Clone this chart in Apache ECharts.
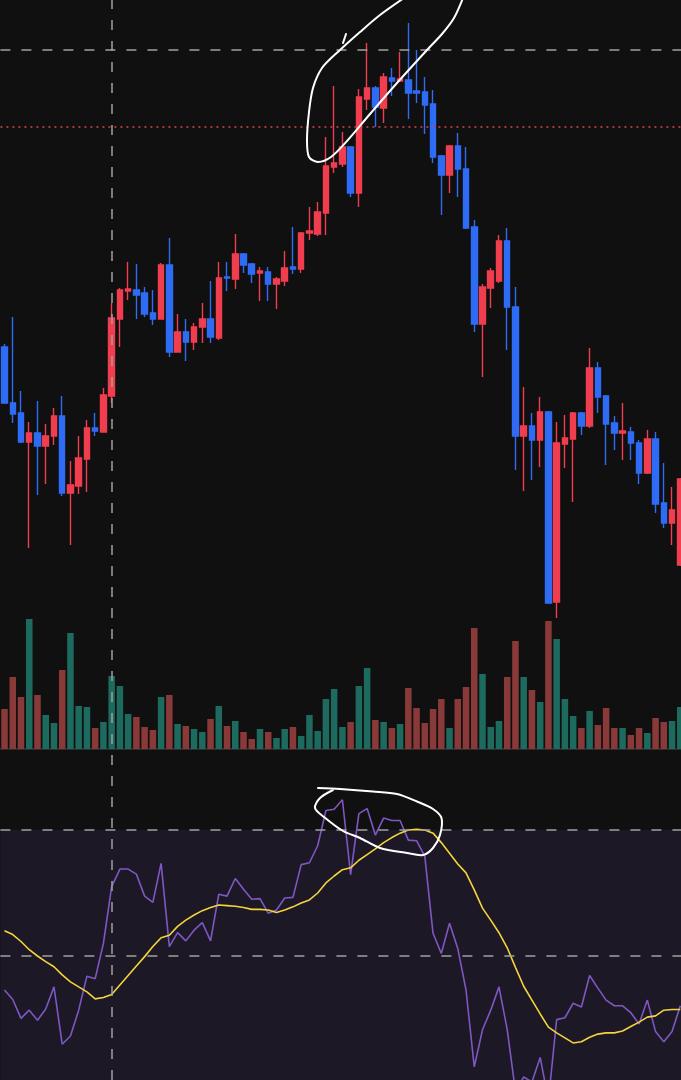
<!DOCTYPE html>
<html>
<head>
<meta charset="utf-8">
<script src="https://cdn.jsdelivr.net/npm/echarts@6.0.0/dist/echarts.min.js"></script>
<style>
html,body{margin:0;padding:0;background:#101010;}
#chart{width:681px;height:1080px;}
</style>
</head>
<body>
<div id="chart"></div>
<script>
// ---- data ----
const opens  = [353,297,287,258,267,254,264,284,207,214,
                241,272,268,304,381,409,410,407,387,381,
                435,348,368,358,373,381,362,423,421,446,
                436,427,428,416,419,433,431,467,466,487,
                533,536,553,507,601,612,592,622,619,620,
                609,608,596,544,525,554,531,473,376,412,
                419,459,393,264,274,260,288,98,256,261,
                287,274,332,304,277,267,268,257,227,261,
                197,177,135];
const closes = [297,286,258,267,254,264,284,207,215,242,
                272,269,305,382,410,411,405,386,381,435,
                348,368,358,373,381,363,422,422,446,435,
                426,429,416,421,432,431,467,469,488,534,
                537,553,507,603,612,593,623,619,621,607,
                607,595,543,525,554,531,472,376,413,429,
                459,393,264,274,260,288,97,257,262,287,
                274,332,303,276,267,269,257,227,261,196,
                177,190,221];
const lows   = [296,277,257,152,205,216,255,204,155,206,
                208,264,268,297,353,400,381,383,375,381,
                343,348,339,350,357,357,360,409,411,427,
                417,399,399,391,414,426,427,460,464,465,
                527,533,503,493,590,573,577,604,618,581,
                597,566,537,485,507,503,471,368,323,392,
                417,350,230,209,220,233,96,82,232,198,
                265,272,287,235,250,240,240,216,226,187,
                172,155,134];
const highs  = [356,383,309,278,299,276,292,304,239,264,
                280,287,312,397,412,438,436,413,410,437,
                462,386,381,377,397,419,438,438,466,447,
                437,433,433,423,449,473,468,493,498,563,
                614,568,554,611,657,614,627,632,648,677,
                650,623,610,545,555,567,553,480,416,432,
                465,472,413,313,287,303,289,278,285,288,
                288,352,338,305,284,297,273,260,270,268,
                237,213,222];
const volumes = [40,72,52,130,54,34,26,79,116,43,
                 42,21,27,73,63,35,32,22,19,52,
                 54,25,23,20,17,30,43,23,28,17,
                 10,20,17,11,20,22,13,34,18,50,
                 60,22,27,63,81,29,27,21,25,61,
                 41,26,40,50,21,50,62,121,75,22,
                 28,72,108,72,59,47,128,110,50,33,
                 21,38,24,41,21,21,14,21,16,31,
                 27,28,42];
const rsi = [44.6,43.1,40.1,41.4,39.8,41.6,45.1,36.0,37.3,41.4,
             46.8,46.4,52.0,61.0,63.8,63.8,63.0,59.5,58.5,64.7,
             51.5,53.7,52.4,54.1,55.3,52.4,59.8,59.5,62.3,60.6,
             59.0,59.1,56.8,57.3,59.2,59.3,64.5,64.8,67.5,73.1,
             73.3,74.8,62.9,72.6,73.4,69.2,71.9,71.5,71.5,68.4,
             68.3,65.8,53.6,50.4,55.2,51.2,44.6,32.4,38.3,41.4,
             45.1,38.3,28.5,30.8,30.0,33.9,27.1,39.9,40.2,42.5,
             41.9,46.9,44.9,43.0,42.1,42.1,41.0,39.2,43.0,38.0,
             36.4,38.0,42.1];
const rsiMA = [54.0,53.4,52.3,51.0,50.0,49.1,48.3,47.0,45.9,45.1,
               44.3,43.2,43.4,43.9,45.4,46.9,48.4,49.9,51.5,52.9,
               53.3,54.7,55.7,56.5,57.2,57.7,58.1,58.0,57.9,57.7,
               57.4,57.4,57.3,56.9,57.3,57.8,58.4,58.9,60.0,61.6,
               62.7,63.7,64.0,65.2,66.1,67.0,68.0,68.8,69.5,70.0,
               70.1,70.0,69.5,68.0,66.3,64.6,63.2,60.5,57.6,55.7,
               53.7,51.3,48.2,45.2,43.0,40.8,38.7,37.8,37.0,36.2,
               36.4,37.1,37.6,37.8,37.8,38.1,38.8,39.5,40.3,40.5,
               41.4,41.5,41.5];
const priceLevel = 650;      // dashed grey level
const lastPriceLevel = 573;  // red dotted price line
const rsiLevels = [70, 50];
const rsiBand = [30, 70];
const crosshairIndex = 13;
const categories = opens.map((_, i) => 'K' + (i + 1));

// ---- hand-drawn annotations (screen strokes) ----
const lassoStroke = [[404,-2],[380,15],[360,32],[340,50],[322,68],[313,88],[309,112],[307,140],[309,157],[318,162],[331,157],[347,141],[370,114],[397,83],[427,50],[442,34],[454,18],[463,-2]];
const lassoTick = [[346,34],[343,43]];
const ellipseStroke = [[318,788],[340,789],[373,791.5],[397,794],[417,801.5],[433,809],[441.5,818],[440,835],[433,848],[423,855],[407,853],[380,848],[360,838],[343,831],[324,817],[315,808],[320,798],[333,790]];

const RED = '#f03e4f', BLUE = '#2f6cf6';
const VOL_UP = '#1d6a5e', VOL_DOWN = '#8a3939';
const DASH = {color:'#a0a0a0', width:1.5, type:[10,11]};

const chart = echarts.init(document.getElementById('chart'), null, {renderer:'canvas'});
const gridX = {left:0.4, width:684, outerBoundsMode:'none', containLabel:false};
const hiddenCat = (idx) => ({type:'category', gridIndex:idx, data:categories, boundaryGap:true, show:false});

chart.setOption({
  animation:false,
  backgroundColor:'#101010',
  grid:[
    Object.assign({top:0, height:1080}, gridX),
    Object.assign({top:600, height:149}, gridX),
    Object.assign({top:754.4, height:453.6}, gridX)
  ],
  xAxis:[
    hiddenCat(0),
    {type:'category', gridIndex:1, data:categories, boundaryGap:true, offset:2,
     axisLine:{show:true, lineStyle:{color:'#2c2c2c', width:2}}, axisTick:{show:false}, axisLabel:{show:false}, splitLine:{show:false}},
    hiddenCat(2)
  ],
  yAxis:[
    {type:'value', gridIndex:0, min:-380, max:700, show:false, splitLine:{show:false}},
    {type:'value', gridIndex:1, min:0, max:149, show:false, splitLine:{show:false}},
    {type:'value', gridIndex:2, min:10, max:82, show:false, splitLine:{show:false}}
  ],
  series:[
    {
      type:'line', xAxisIndex:2, yAxisIndex:2, data:rsiMA, symbol:'none', z:1,
      lineStyle:{opacity:0}, silent:true,
      markArea:{silent:true, itemStyle:{color:'#1c1826'}, data:[[{yAxis:rsiBand[0]},{yAxis:rsiBand[1]}]]},
      markLine:{silent:true, symbol:'none', label:{show:false}, lineStyle:DASH,
        data: rsiLevels.map(v => ({yAxis:v}))}
    },
    {
      type:'bar', xAxisIndex:1, yAxisIndex:1, barWidth:'79%', z:2,
      data: volumes.map((v, i) => ({value:v, itemStyle:{color: closes[i] > opens[i] ? VOL_UP : VOL_DOWN}}))
    },
    {
      type:'line', xAxisIndex:2, yAxisIndex:2, data:rsi, symbol:'none', z:3,
      lineStyle:{color:'#7e57c2', width:1.6}
    },
    {
      type:'line', xAxisIndex:2, yAxisIndex:2, data:rsiMA, symbol:'none', z:4,
      lineStyle:{color:'#f4d43c', width:1.6}
    },
    {
      type:'candlestick', xAxisIndex:0, yAxisIndex:0, barWidth:6, z:5,
      data: opens.map((o, i) => [o, closes[i], lows[i], highs[i]]),
      itemStyle:{color:RED, color0:BLUE, borderColor:RED, borderColor0:BLUE, borderWidth:1.4},
      markLine:{silent:true, symbol:'none', label:{show:false}, z:10,
        data:[
          {yAxis:priceLevel, lineStyle:DASH},
          {yAxis:lastPriceLevel, lineStyle:{color:'#d8404f', width:1.5, type:[2,4]}},
          {xAxis:categories[crosshairIndex], lineStyle:DASH}
        ]}
    }
  ],
  graphic:[
    {type:'polyline', z:100, silent:true, shape:{points:lassoStroke, smooth:0.3}, style:{stroke:'#ffffff', lineWidth:2, fill:null, lineCap:'round'}},
    {type:'polyline', z:100, silent:true, shape:{points:lassoTick}, style:{stroke:'#ffffff', lineWidth:2, fill:null, lineCap:'round'}},
    {type:'polyline', z:100, silent:true, shape:{points:ellipseStroke, smooth:0.3}, style:{stroke:'#ffffff', lineWidth:2, fill:null, lineCap:'round'}}
  ]
});
</script>
</body>
</html>
